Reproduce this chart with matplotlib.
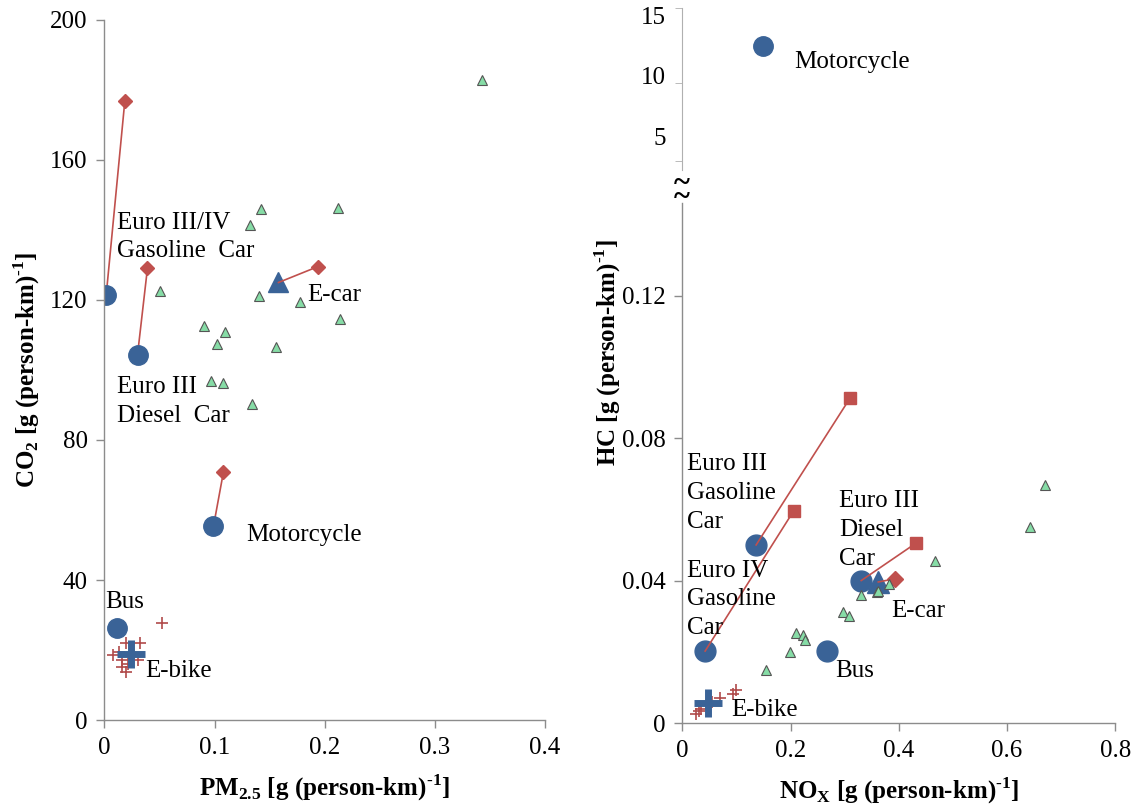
import matplotlib
matplotlib.use('Agg')
import matplotlib.pyplot as plt
from matplotlib.ticker import FuncFormatter

plt.rcParams['font.family'] = 'Liberation Serif'
plt.rcParams['font.size'] = 18
plt.rcParams['mathtext.fontset'] = 'custom'
plt.rcParams['mathtext.rm'] = 'Liberation Serif'
plt.rcParams['mathtext.bf'] = 'Liberation Serif:bold'

BLUE = '#3A6397'
RED = '#C0504D'
GREEN = '#86DCA6'
SPINE = '#8C8C8C'

# ---- left panel: PM2.5 vs CO2 ----
# blue = mean of each mode, red = paired upper estimate
pm_modes = ['Euro III/IV\nGasoline  Car', 'Euro III\nDiesel  Car', 'E-car', 'Motorcycle', 'Bus', 'E-bike']
pm_mean = [0.0016, 0.030, 0.158, 0.099, 0.0114, 0.0237]
co2_mean = [121.5, 104.3, 125.0, 55.4, 26.2, 19.0]
pm_alt = [0.0185, 0.039, 0.1935, 0.108]
co2_alt = [176.9, 129.0, 129.5, 70.8]

# individual e-car samples (green) and e-bike samples (red crosses)
ecar_pm = [0.3424, 0.1424, 0.2124, 0.1317, 0.0504, 0.1405, 0.1772, 0.214, 0.090,
           0.1096, 0.1018, 0.1561, 0.0966, 0.1073, 0.1343]
ecar_co2 = [182.9, 145.9, 146.4, 141.4, 122.7, 121.2, 119.3, 114.5, 112.7,
            110.8, 107.4, 106.5, 96.9, 96.4, 90.2]
ebike_pm = [0.052, 0.0325, 0.0195, 0.0081, 0.0163, 0.0309, 0.0163, 0.0195, 0.021, 0.013]
ebike_co2 = [27.8, 22.1, 22.1, 18.6, 17.1, 17.1, 15.2, 13.8, 16.0, 19.5]

# ---- right panel: NOx vs HC ----
nox_mean = [0.1363, 0.0421, 0.3305, 0.362, 0.268, 0.0474]
hc_mean = [0.0500, 0.0202, 0.0400, 0.0396, 0.0202, 0.0056]
nox_alt = [0.3097, 0.2054, 0.4326, 0.393]
hc_alt = [0.0912, 0.0595, 0.0506, 0.0405]
moto_nox = [0.1495]
moto_hc = [12.45]

ecar_nox = [0.6696, 0.642, 0.4675, 0.382, 0.3305, 0.360, 0.362, 0.2976, 0.3075,
            0.210, 0.222, 0.2265, 0.1988, 0.154]
ecar_hc = [0.0667, 0.0550, 0.0455, 0.0389, 0.0360, 0.0368, 0.0372, 0.0312, 0.0300,
           0.0253, 0.0246, 0.0232, 0.0199, 0.0150]
ebike_nox = [0.0988, 0.0935, 0.0704, 0.054, 0.0342, 0.0244, 0.031]
ebike_hc = [0.0094, 0.0082, 0.0070, 0.0059, 0.0040, 0.0026, 0.0033]

UNIT = r' [g (person-km)$^\mathbf{' + '\u2010' + r'1}$]'


def fmt(v, pos):
    return '0' if v == 0 else ('%g' % v)


def style(ax):
    for s in ['top', 'right']:
        ax.spines[s].set_visible(False)
    for s in ['left', 'bottom']:
        ax.spines[s].set_color(SPINE)
        ax.spines[s].set_linewidth(1.0)
    ax.tick_params(direction='out', length=6, color=SPINE, width=1.0, pad=6)
    ax.xaxis.set_major_formatter(FuncFormatter(fmt))
    ax.yaxis.set_major_formatter(FuncFormatter(fmt))


fig = plt.figure(figsize=(11.38, 8.09), dpi=100)

# left
ax1 = fig.add_axes([0.0918, 0.110, 0.3871, 0.8653])
style(ax1)
ax1.set_xlim(0, 0.4)
ax1.set_ylim(0, 200)
ax1.set_xticks([0, 0.1, 0.2, 0.3, 0.4])
ax1.set_yticks([0, 40, 80, 120, 160, 200])

for i in range(4):
    ax1.plot([pm_mean[i], pm_alt[i]], [co2_mean[i], co2_alt[i]], color=RED, lw=1.2, zorder=2)
ax1.plot(pm_alt, co2_alt, 'D', color=RED, ms=7, zorder=3)
ax1.plot(ecar_pm, ecar_co2, '^', color=GREEN, mec='#555555', mew=0.8, ms=7, zorder=3)
ax1.plot(ebike_pm, ebike_co2, '+', color='#B04A4A', ms=9, mew=1.2, zorder=3)
ax1.plot([pm_mean[i] for i in (0, 1, 3, 4)], [co2_mean[i] for i in (0, 1, 3, 4)],
         'o', color=BLUE, ms=14, zorder=2)
ax1.plot(pm_mean[2], co2_mean[2], '^', color=BLUE, ms=15, zorder=1)
ax1.plot(pm_mean[5], co2_mean[5], '+', color=BLUE, ms=20, mew=5, zorder=4)

left_lbl = [(0.0114, 138.0), (0.0114, 90.9), (0.1837, 121.4), (0.129, 52.9), (0.0007, 33.8), (0.0374, 14.1)]
for name, (lx, ly) in zip(pm_modes, left_lbl):
    ax1.text(lx, ly, name, ha='left', va='center', linespacing=1.4)

ax1.set_xlabel(r'PM$_\mathbf{2.5}$' + UNIT, fontweight='bold', labelpad=10)
ax1.set_ylabel(r'CO$_\mathbf{2}$' + UNIT, fontweight='bold', labelpad=6)

# right lower
ax2 = fig.add_axes([0.5996, 0.1063, 0.3805, 0.6427])
style(ax2)
ax2.set_xlim(0, 0.8)
ax2.set_ylim(0, 0.146)
ax2.set_xticks([0, 0.2, 0.4, 0.6, 0.8])
ax2.set_yticks([0, 0.04, 0.08, 0.12])

for i in range(4):
    ax2.plot([nox_mean[i], nox_alt[i]], [hc_mean[i], hc_alt[i]], color=RED, lw=1.2, zorder=3)
ax2.plot(nox_alt[:3], hc_alt[:3], 's', color=RED, ms=8, zorder=3)
ax2.plot(nox_alt[3], hc_alt[3], 'D', color=RED, ms=8, zorder=3)
ax2.plot(ecar_nox, ecar_hc, '^', color=GREEN, mec='#555555', mew=0.8, ms=7, zorder=4)
ax2.plot(ebike_nox, ebike_hc, '+', color='#B04A4A', ms=9, mew=1.2, zorder=3)
ax2.plot([nox_mean[i] for i in (0, 1, 2, 4)], [hc_mean[i] for i in (0, 1, 2, 4)],
         'o', color=BLUE, ms=15, zorder=2)
ax2.plot(nox_mean[3], hc_mean[3], '^', color=BLUE, ms=16, zorder=2)
ax2.plot(nox_mean[5], hc_mean[5], '+', color=BLUE, ms=20, mew=5, zorder=5)

right_modes = ['Euro III\nGasoline\nCar', 'Euro IV\nGasoline\nCar', 'Euro III\nDiesel\nCar',
               'E-car', 'Bus', 'E-bike']
right_lbl = [(0.0092, 0.0646), (0.0079, 0.0347), (0.289, 0.0542), (0.3865, 0.0314), (0.2831, 0.0146), (0.0902, 0.0036)]
for name, (lx, ly) in zip(right_modes, right_lbl):
    ax2.text(lx, ly, name, ha='left', va='center', linespacing=1.4)

ax2.set_xlabel(r'NO$_\mathbf{X}$' + UNIT, fontweight='bold', labelpad=10)
fig.text(0.5338, 0.5637, 'HC' + UNIT, rotation=90, ha='center', va='center',
         fontweight='bold')

# right upper (broken axis)
ax3 = fig.add_axes([0.5996, 0.790, 0.3805, 0.1997])
ax3.set_xlim(0, 0.8)
ax3.set_ylim(2.27, 15.55)
for s in ['top', 'right', 'bottom']:
    ax3.spines[s].set_visible(False)
ax3.spines['left'].set_color('#B0B0B0')
ax3.set_xticks([])
ax3.set_yticks([5, 10, 15])
ax3.set_yticks([3.03, 9.39, 15.55], minor=True)
ax3.tick_params(axis='y', which='major', length=0, pad=12)
ax3.tick_params(axis='y', which='minor', length=5, color='#B0B0B0', direction='out')
ax3.plot(moto_nox, moto_hc, 'o', color=BLUE, ms=14)
ax3.text(0.2074, 11.1, 'Motorcycle', ha='left', va='center')

# break marks
fig.text(681.7 / 1138, 1 - 183 / 809, '~', ha='center', va='center', fontsize=22, fontweight='bold')
fig.text(681.7 / 1138, 1 - 198 / 809, '~', ha='center', va='center', fontsize=22, fontweight='bold')

plt.savefig('out.png', dpi=100)
